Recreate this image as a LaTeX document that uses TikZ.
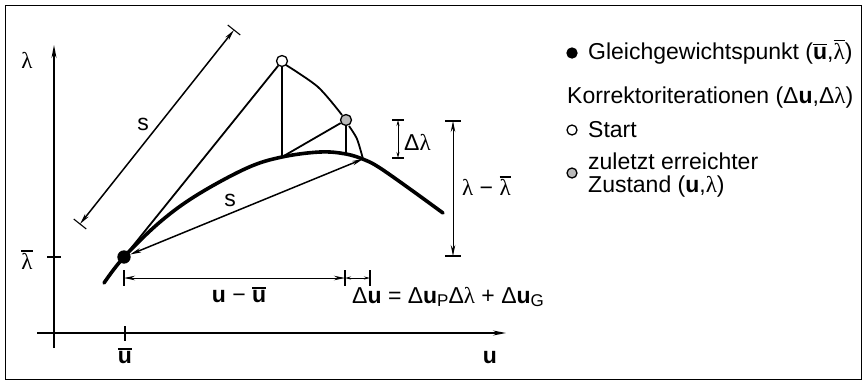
\documentclass[tikz,border=0pt]{standalone}
\usepackage{fontspec}
\setmainfont{Liberation Sans}
\newfontfamily\grserif{Liberation Serif}
\usetikzlibrary{arrows.meta,calc}
\newcommand{\lam}{{\grserif λ}}
\newcommand{\barover}[1]{\leavevmode\vbox{\hrule height 1.3pt\kern 1.8pt\hbox{#1}}}
\newcommand{\lamb}{\barover{\lam}}
\newcommand{\ubf}{\textbf{u}}
\newcommand{\ubb}{\barover{\textbf{u}}}
\tikzset{
  lbl/.style={inner sep=0pt, font=\fontsize{23}{27}\selectfont},
  axisline/.style={line width=1.1pt},
  curveline/.style={line width=3.6pt, line cap=round},
  chord/.style={line width=1.8pt},
  dimline/.style={line width=1pt, {Stealth[length=11pt,width=4.5pt]}-{Stealth[length=11pt,width=4.5pt]}},
  smalldim/.style={line width=0.9pt, {Stealth[length=6pt,width=3pt]}-{Stealth[length=6pt,width=3pt]}},
  tickline/.style={line width=1.1pt},
  dotnode/.style={circle, draw, line width=1.3pt, minimum size=10pt, inner sep=0pt}
}
\begin{document}
\begin{tikzpicture}[x=1pt,y=-1pt]
\useasboundingbox (0,0) rectangle (863,381);
\draw[line width=0.9pt] (5,5) rectangle (861,379);

% axes
\coordinate (lamA0) at (54,348);
\coordinate (lamA1) at (54,45);
\coordinate (uA0) at (37,333);
\coordinate (uA1) at (506,333);
\draw[axisline,-{Stealth[length=13pt,width=5pt]}] (lamA0) -- (lamA1);
\draw[axisline,-{Stealth[length=13pt,width=5pt]}] (uA0) -- (uA1);
\node[lbl] (lamlbl) at (27,60) {\lam};
\node[lbl] (ulbl) at (490,358) {\ubf};
\coordinate (tl0) at (47,257); \coordinate (tl1) at (61,257);
\draw[tickline] (tl0) -- (tl1);
\node[lbl] (lambarlbl) at (27,260) {\lamb};
\coordinate (tu0) at (125,326); \coordinate (tu1) at (125,341);
\draw[tickline] (tu0) -- (tu1);
\node[lbl] (ubarlbl) at (125,356) {\ubb};

% main curve
\draw[curveline] plot[smooth, tension=0.6] coordinates {(104,283) (124,257) (160,222) (197,195) (247,168) (282,157) (320,152) (346,154) (365,160) (380,168) (410,189) (443,213)};

% key points
\coordinate (F1) at (282,157);
\coordinate (F2) at (346,154);
\coordinate (C) at (363,159);
\node[dotnode, fill=black, minimum size=12pt] (E) at (124,257) {};
\node[dotnode, fill=white, minimum size=11pt] (S) at (282,61) {};
\node[dotnode, fill=gray!55, minimum size=11pt] (L) at (346,120) {};

% chord and iterations
\draw[chord] (E) -- (S);
\draw[chord] (S) -- (F1);
\draw[chord] (F1) -- (L);
\draw[chord] (L) -- (F2);
\draw[chord] plot[smooth] coordinates {(286,65) (318,87) (342,115)};
\draw[chord] plot[smooth] coordinates {(349,126) (357,139) (C)};

% lower s
\draw[dimline, line width=1.5pt] (E) -- (C);
\node[lbl] (s2) at (230,200) {s};

% upper s dimension
\coordinate (D1) at (80,224);
\coordinate (D2) at (234,30);
\draw[dimline, line width=1.5pt] (D1) -- (D2);
\draw[tickline] ($(D1)!8pt!90:(D2)$) -- ($(D1)!8pt!-90:(D2)$);
\draw[tickline] ($(D2)!8pt!90:(D1)$) -- ($(D2)!8pt!-90:(D1)$);
\node[lbl] (s1) at (143,124) {s};

% delta lambda
\coordinate (dl0) at (398,120);
\coordinate (dl1) at (398,158);
\draw[smalldim] (dl0) -- (dl1);
\draw[tickline] ($(dl0)+(-6,0)$) -- ($(dl0)+(6,0)$);
\draw[tickline] ($(dl1)+(-6,0)$) -- ($(dl1)+(6,0)$);
\node[lbl, anchor=west] (dllbl) at (404,142) {Δ\lam};

% lambda - lambdabar
\coordinate (ll0) at (453,121);
\coordinate (ll1) at (453,256);
\draw[dimline] (ll0) -- (ll1);
\draw[tickline] ($(ll0)+(-8,0)$) -- ($(ll0)+(8,0)$);
\draw[tickline] ($(ll1)+(-8,0)$) -- ($(ll1)+(8,0)$);
\node[lbl, anchor=west] (lllbl) at (462,186) {\lam{} − \lamb};

% u - ubar
\coordinate (ud0) at (124,278);
\coordinate (ud1) at (345,278);
\coordinate (ud2) at (370,278);
\draw[dimline] (ud0) -- (ud1);
\draw[smalldim] (ud1) -- (ud2);
\draw[tickline] ($(ud0)+(0,-8)$) -- ($(ud0)+(0,8)$);
\draw[tickline] ($(ud1)+(0,-8)$) -- ($(ud1)+(0,8)$);
\draw[tickline] ($(ud2)+(0,-8)$) -- ($(ud2)+(0,8)$);
\node[lbl] (udlbl) at (239,295) {\ubf{} − \ubb};
\node[lbl, anchor=west] (dulbl) at (352,297) {Δ\ubf{} = Δ\ubf\raisebox{-0.3ex}{\fontsize{17}{19}\selectfont P}Δ\lam{} + Δ\ubf\raisebox{-0.3ex}{\fontsize{17}{19}\selectfont G}};

% legend
\node[dotnode, fill=black] (k1) at (572,53) {};
\node[lbl, anchor=west] (t1) at (588,52) {Gleichgewichtspunkt (\ubb,\lamb)};
\node[lbl, anchor=west] (t2) at (567,98) {Korrektoriterationen (Δ\ubf,Δ\lam)};
\node[dotnode, fill=white] (k2) at (572,130) {};
\node[lbl, anchor=west] (t3) at (588,130) {Start};
\node[dotnode, fill=gray!55] (k3) at (572,173) {};
\node[lbl, anchor=west] (t4) at (588,161) {zuletzt erreichter};
\node[lbl, anchor=west] (t5) at (588,187) {Zustand (\ubf,\lam)};
\end{tikzpicture}
\end{document}
